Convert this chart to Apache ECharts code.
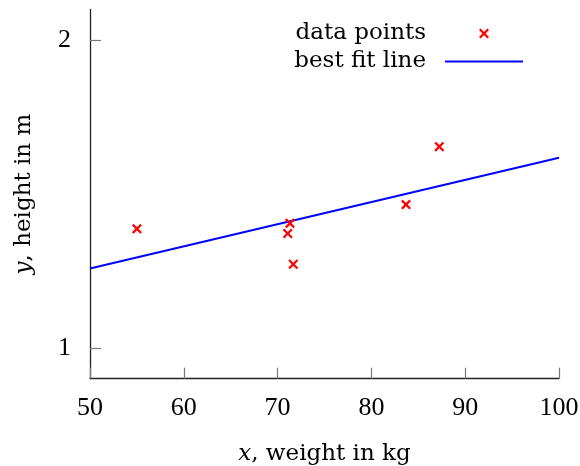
<!DOCTYPE html>
<html>
<head>
<meta charset="utf-8">
<script src="https://cdn.jsdelivr.net/npm/echarts@6/dist/echarts.min.js"></script>
<style>html,body{margin:0;padding:0;background:#fff;}#c{width:580px;height:466px;}</style>
</head>
<body>
<div id="c"></div>
<script>
var weights = [55.0, 71.32, 71.08, 71.67, 83.69, 87.24];
var heights = [1.387, 1.405, 1.372, 1.272, 1.466, 1.654];
var fitX = [50, 100];
var fitY = [1.258, 1.618];
var yTicks = [1, 2];

var NUMFONT = 'Liberation Serif';
var TXTFONT = 'DejaVu Serif';
var NFS = 26;
var TFS = 23;
var chart = echarts.init(document.getElementById('c'));
var xPath = 'path://M0,1.6L1.6,0L5,3.4L8.4,0L10,1.6L6.6,5L10,8.4L8.4,10L5,6.6L1.6,10L0,8.4L3.4,5Z';
var linePath = 'path://M0,0L78,0L78,2L0,2Z';
chart.setOption({
  animation: false,
  backgroundColor: '#fff',
  textStyle: {fontFamily: TXTFONT},
  grid: {left: 90, right: 21, top: 9.5, bottom: 87.3, containLabel: false, outerBoundsMode: 'none'},
  legend: {
    orient: 'vertical',
    align: 'right',
    right: 57,
    top: 22,
    padding: 0,
    itemGap: 5,
    itemWidth: 78,
    itemHeight: 10,
    textStyle: {fontFamily: TXTFONT, fontSize: TFS, color: '#000', padding: [0, 14, 0, 0]},
    data: [{name: 'data points'}, {name: 'best fit line', icon: linePath}]
  },
  xAxis: {
    type: 'value', min: 50, max: 100, interval: 10,
    name: '{i|x}, weight in kg', nameLocation: 'middle', nameGap: 64,
    nameTextStyle: {fontFamily: TXTFONT, fontSize: TFS, color: '#000',
      rich: {i: {fontFamily: TXTFONT, fontSize: TFS, fontStyle: 'italic', color: '#000'}}},
    axisLine: {lineStyle: {color: '#222', width: 1.3}},
    axisTick: {inside: true, length: 11, lineStyle: {color: '#777', width: 1.2}},
    axisLabel: {fontFamily: NUMFONT, fontSize: NFS, color: '#000', margin: 16},
    splitLine: {show: false}
  },
  yAxis: {
    type: 'value', min: 0.9, max: 2.1,
    name: '{i|y}, height in m', nameLocation: 'middle', nameGap: 54, nameRotate: 90,
    nameTextStyle: {fontFamily: TXTFONT, fontSize: TFS, color: '#000',
      rich: {i: {fontFamily: TXTFONT, fontSize: TFS, fontStyle: 'italic', color: '#000'}}},
    axisLine: {show: true, lineStyle: {color: '#222', width: 1.3}},
    axisTick: {show: true, inside: true, length: 11, customValues: yTicks, lineStyle: {color: '#777', width: 1.2}},
    axisLabel: {fontFamily: NUMFONT, fontSize: NFS, color: '#000', margin: 19, customValues: yTicks},
    splitLine: {show: false}
  },
  series: [
    {
      name: 'best fit line', type: 'line', symbol: 'none', showSymbol: false,
      data: fitX.map(function (x, i) { return [x, fitY[i]]; }),
      lineStyle: {color: '#0000ff', width: 2}, itemStyle: {color: '#0000ff'}, z: 2
    },
    {
      name: 'data points', type: 'scatter', symbol: xPath, symbolSize: 10,
      data: weights.map(function (x, i) { return [x, heights[i]]; }),
      itemStyle: {color: '#ff0000', opacity: 1}, z: 3
    }
  ]
});
</script>
</body>
</html>
